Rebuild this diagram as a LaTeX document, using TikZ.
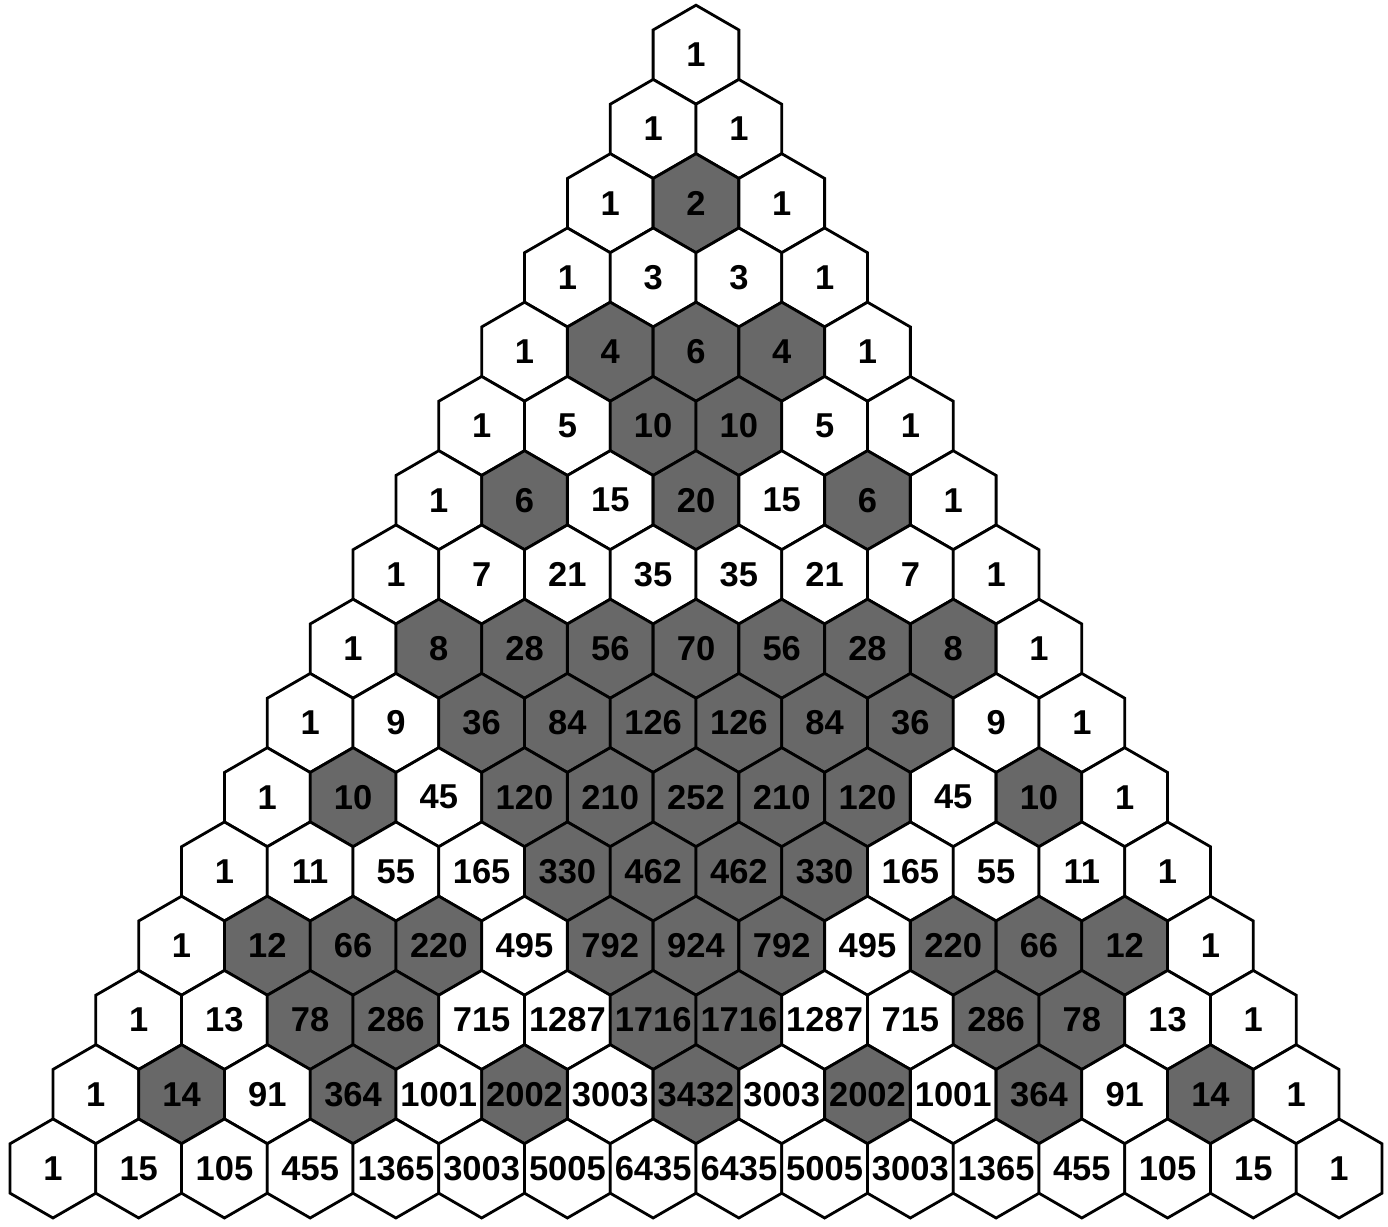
\documentclass[tikz,border=0pt]{standalone}
\usepackage{fontspec}
\setmainfont{Liberation Sans}
\definecolor{evencell}{RGB}{104,104,104}
\tikzset{
  hexline/.style={draw=black, line width=2.8pt, line join=miter},
  numlabel/.style={inner sep=0pt, font=\fontsize{34.5}{34.5}\selectfont\bfseries, text=black},
}
\begin{document}
\begin{tikzpicture}
\useasboundingbox (0pt,0pt) rectangle (1388pt,-1226pt);
\foreach \rowlist [count=\n from 0] in {
  {1},
  {1,1},
  {1,2,1},
  {1,3,3,1},
  {1,4,6,4,1},
  {1,5,10,10,5,1},
  {1,6,15,20,15,6,1},
  {1,7,21,35,35,21,7,1},
  {1,8,28,56,70,56,28,8,1},
  {1,9,36,84,126,126,84,36,9,1},
  {1,10,45,120,210,252,210,120,45,10,1},
  {1,11,55,165,330,462,462,330,165,55,11,1},
  {1,12,66,220,495,792,924,792,495,220,66,12,1},
  {1,13,78,286,715,1287,1716,1716,1287,715,286,78,13,1},
  {1,14,91,364,1001,2002,3003,3432,3003,2002,1001,364,91,14,1},
  {1,15,105,455,1365,3003,5005,6435,6435,5005,3003,1365,455,105,15,1}}{
  \foreach \v [count=\k from 0] in \rowlist {
    \pgfmathsetmacro\cx{696+(\k-\n/2)*85.74}
    \pgfmathsetmacro\cy{-(54.7+74.25*\n)}
    \pgfmathtruncatemacro\parity{mod(\v,2)}
    \ifnum\parity=0 \def\cellfill{evencell}\else\def\cellfill{white}\fi
    \filldraw[hexline, fill=\cellfill] (\cx pt,\cy pt) +(90:49.5pt) -- +(150:49.5pt) -- +(210:49.5pt) -- +(270:49.5pt) -- +(330:49.5pt) -- +(30:49.5pt) -- cycle;
    \node[numlabel] (c-\n-\k) at (\cx pt,\cy pt) {\v};
  }
}
\end{tikzpicture}
\end{document}
